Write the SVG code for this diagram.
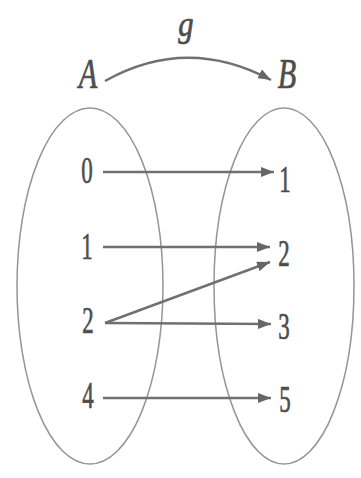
<svg xmlns="http://www.w3.org/2000/svg" width="361" height="478" viewBox="0 0 361 478">
<defs>
<marker id="ah" viewBox="0 0 13 10" refX="13" refY="5" markerWidth="13" markerHeight="10" markerUnits="userSpaceOnUse" orient="auto">
<path d="M0,0 L13,5 L0,10 z" fill="#666"/>
</marker>
<style>
.set{fill:none;stroke:#959595;stroke-width:1.5}
.t{font-family:"Liberation Serif","Times New Roman",serif;font-size:37px;fill:#4d4d4d;stroke:#4d4d4d;stroke-width:0.7;text-anchor:middle}
.i{font-style:italic;font-size:42px}
.g{font-style:italic;font-size:36px}
.c{fill:none;stroke:#707070;stroke-width:2.4;marker-end:url(#ah)}
</style>
</defs>
<rect width="361" height="478" fill="#fff"/>
<g id="setA">
<ellipse class="set" cx="90" cy="286" rx="73" ry="178"/>
<text class="t i" transform="translate(88,88) scale(0.72,1)">A</text>
</g>
<g id="setB">
<ellipse class="set" cx="284" cy="286" rx="70" ry="178"/>
<text class="t i" transform="translate(287,88) scale(0.72,1)">B</text>
</g>
<g id="label-g"><text class="t g" transform="translate(186,36) scale(0.85,1)">g</text></g>
<g id="a0"><text class="t" transform="translate(87,183) scale(0.62,1)">0</text></g>
<g id="a1"><text class="t" transform="translate(87,259) scale(0.62,1)">1</text></g>
<g id="a2"><text class="t" transform="translate(88,333) scale(0.62,1)">2</text></g>
<g id="a4"><text class="t" transform="translate(88,408) scale(0.62,1)">4</text></g>
<g id="b1"><text class="t" transform="translate(285,192) scale(0.62,1)">1</text></g>
<g id="b2"><text class="t" transform="translate(284,266) scale(0.62,1)">2</text></g>
<g id="b3"><text class="t" transform="translate(284,339) scale(0.62,1)">3</text></g>
<g id="b5"><text class="t" transform="translate(285,412) scale(0.62,1)">5</text></g>
<g id="connectors">
<path class="c" d="M105,81 Q187,35 271,80"/>
<path class="c" d="M103,172 L274,172"/>
<path class="c" d="M103,247 L270,247"/>
<path class="c" d="M105,323 L270,262"/>
<path class="c" d="M105,323 L271,324"/>
<path class="c" d="M103,398 L271,398"/>
</g>
</svg>
